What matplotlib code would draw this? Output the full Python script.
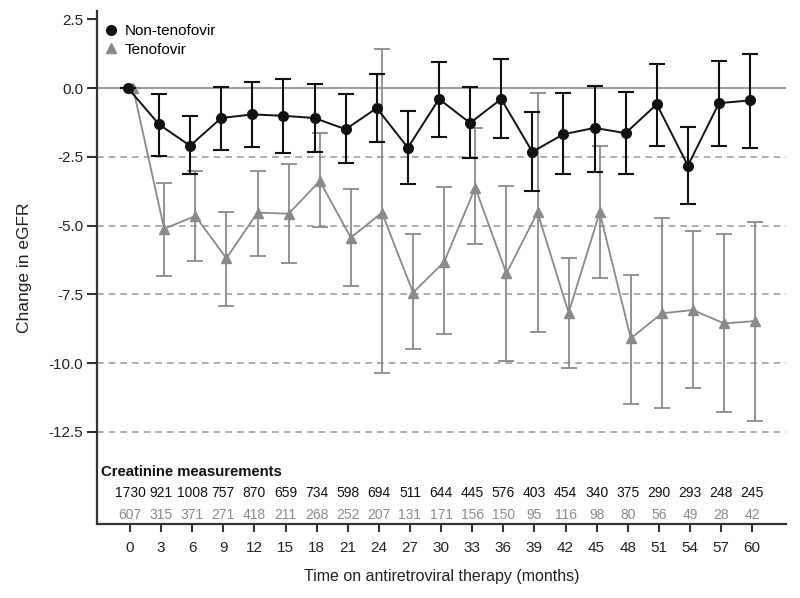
import matplotlib
matplotlib.use("Agg")
import matplotlib.pyplot as plt
from matplotlib.lines import Line2D
import numpy as np

plt.rcParams['font.family'] = ['Liberation Sans', 'DejaVu Sans']

months = [0, 3, 6, 9, 12, 15, 18, 21, 24, 27, 30, 33, 36, 39, 42, 45, 48, 51, 54, 57, 60]

non_mean = [0.0, -1.32, -2.10, -1.09, -0.96, -1.01, -1.09, -1.50, -0.73, -2.17, -0.40, -1.27,
            -0.40, -2.32, -1.68, -1.45, -1.64, -0.59, -2.82, -0.55, -0.45]
non_hi = [0.0, -0.21, -1.01, 0.05, 0.23, 0.32, 0.13, -0.23, 0.50, -0.82, 0.95, 0.04,
          1.04, -0.87, -0.19, 0.08, -0.15, 0.86, -1.42, 0.99, 1.24]
non_lo = [0.0, -2.46, -3.13, -2.27, -2.13, -2.36, -2.32, -2.73, -1.95, -3.49, -1.77, -2.55,
          -1.82, -3.73, -3.14, -3.05, -3.14, -2.10, -4.23, -2.10, -2.18]

ten_mean = [0.0, -5.12, -4.65, -6.19, -4.53, -4.57, -3.38, -5.44, -4.53, -7.44, -6.32, -3.62,
            -6.74, -4.52, -8.17, -4.52, -9.10, -8.19, -8.07, -8.56, -8.47]
ten_hi = [0.0, -3.47, -3.02, -4.50, -3.01, -2.78, -1.64, -3.68, 1.41, -5.32, -3.61, -1.45,
          -3.55, -0.19, -6.19, -2.10, -6.79, -4.74, -5.18, -5.32, -4.86]
ten_lo = [0.0, -6.82, -6.28, -7.92, -6.10, -6.36, -5.04, -7.21, -10.36, -9.47, -8.96, -5.68,
          -9.93, -8.87, -10.19, -6.91, -11.47, -11.65, -10.92, -11.78, -12.10]

n_non = [1730, 921, 1008, 757, 870, 659, 734, 598, 694, 511, 644, 445, 576, 403, 454, 340,
         375, 290, 293, 248, 245]
n_ten = [607, 315, 371, 271, 418, 211, 268, 252, 207, 131, 171, 156, 150, 95, 116, 98,
         80, 56, 49, 28, 42]

y_ticks = [2.5, 0.0, -2.5, -5.0, -7.5, -10.0, -12.5]

BLACK = '#111111'
GRAY = '#8a8a8a'

fig = plt.figure(figsize=(8, 5.98), dpi=100)
ax = fig.add_axes([0.1216, 0.1237, 0.983 - 0.1216, 0.9816 - 0.1237])

x = np.array(months, dtype=float)

# reference lines
ax.axhline(0, color='#a0a0a0', lw=1.5, zorder=1)
for v in [-2.5, -5.0, -7.5, -10.0, -12.5]:
    ax.axhline(v, color='#a0a0a0', lw=1.2, ls=(0, (4, 3)), zorder=1)

xt = x + 0.3
tm = np.array(ten_mean)
ax.errorbar(xt, tm, yerr=[tm - np.array(ten_lo), np.array(ten_hi) - tm],
            color=GRAY, ecolor=GRAY, elinewidth=1.3, capsize=6, capthick=1.3,
            lw=1.3, marker='^', ms=6.5, zorder=2, label='Tenofovir')

xn = x - 0.2
nm = np.array(non_mean)
ax.errorbar(xn, nm, yerr=[nm - np.array(non_lo), np.array(non_hi) - nm],
            color=BLACK, ecolor=BLACK, elinewidth=1.5, capsize=6, capthick=1.5,
            lw=1.4, marker='o', ms=7, zorder=3, label='Non-tenofovir')

ax.set_xlim(-3.15, 63.3)
ax.set_ylim(-15.85, 2.8)

ax.set_yticks(y_ticks)
ax.set_yticklabels([f'{v:.1f}' for v in y_ticks])
ax.set_xticks(months)
ax.set_xticklabels([str(m) for m in months])

for s in ['top', 'right']:
    ax.spines[s].set_visible(False)
for s in ['left', 'bottom']:
    ax.spines[s].set_linewidth(1.6)
    ax.spines[s].set_color('#333333')
ax.tick_params(axis='both', labelsize=11, length=7, width=1.5, color='#333333',
               labelcolor='#222222', pad=3)
ax.tick_params(axis='x', length=6, pad=6)

ax.set_xlabel('Time on antiretroviral therapy (months)', fontsize=11.5, color='#222222', labelpad=10)
ax.set_ylabel('Change in eGFR', fontsize=12.5, color='#222222')
ax.yaxis.set_label_coords(-0.095, 0.5)

# counts table
ax.text(-2.8, -13.95, 'Creatinine measurements', fontsize=10.7, fontweight='bold',
        color=BLACK, va='center', ha='left')
for m, a, b in zip(months, n_non, n_ten):
    ax.text(m, -14.74, str(a), fontsize=10, color=BLACK, ha='center', va='center')
    ax.text(m, -15.53, str(b), fontsize=10, color=GRAY, ha='center', va='center')

h1 = Line2D([], [], color=BLACK, marker='o', ls='none', ms=7)
h2 = Line2D([], [], color=GRAY, marker='^', ls='none', ms=7)
ax.legend([h1, h2], ['Non-tenofovir', 'Tenofovir'], loc='upper left', frameon=False,
          fontsize=11, handlelength=0.8, handletextpad=0.5, labelspacing=0.3,
          bbox_to_anchor=(-0.005, 0.995), borderaxespad=0.3)

fig.savefig('out.png', dpi=100)
